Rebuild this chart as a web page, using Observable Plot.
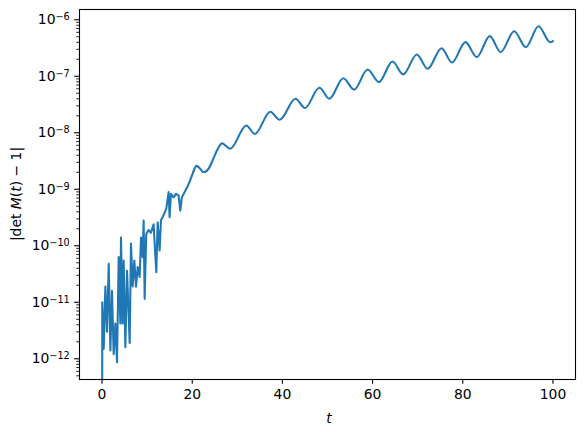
<!DOCTYPE html>
<html><head><meta charset="utf-8">
<script src="https://cdn.jsdelivr.net/npm/d3@7"></script>
<script src="https://cdn.jsdelivr.net/npm/@observablehq/plot@0.6"></script>
<style>body{margin:0;background:#fff}</style>
</head><body><div id="chart"></div>
<script>
// time values t
const tValues = [0, 0.05, 0.37, 0.74, 1.1, 1.48, 1.85, 2.2, 2.58, 2.95, 3.32, 3.69, 4.06, 4.2, 4.57, 4.8, 5.17, 5.54, 6.13, 6.42, 6.79, 7.16, 7.53, 7.9, 8.34, 8.64, 9.0, 9.23, 9.45, 9.8, 10.3, 10.85, 11.43, 11.8, 12.03, 12.33, 12.77, 13.06, 13.65, 14.24, 14.76, 14.98, 15.28, 15.87, 16.38, 16.97, 17.35, 17.7, 18.8, 19.56, 20.3,
  20.95, 21.77, 22.5, 23.6, 24.7, 25.5, 26.6, 28.4, 32.0, 33.9, 37.3, 39.4, 42.9, 45.0, 48.2, 50.4, 53.5, 55.9, 58.9, 61.4, 64.4, 66.8, 69.8, 72.2, 75.3, 77.6, 80.6, 83.1, 86.0, 88.4, 91.4, 94.0, 96.8, 99.4, 100];
// |det M(t) - 1|
const detValues = [1e-16, 1.0e-11, 1.5e-12, 1.9e-11, 3.0e-12, 4.8e-11, 1.4e-12, 1.6e-11, 1.2e-12, 4.2e-12, 8.7e-13, 6.3e-11, 4.2e-12, 1.4e-10, 4.2e-12, 5.5e-11, 1.6e-12, 3.6e-11, 1.9e-12, 1.1e-10, 1.9e-11, 5.5e-11, 1.9e-11, 4.2e-11, 2.8e-11, 1.4e-10, 6.3e-11, 2.8e-10, 1.15e-11, 1.6e-10, 1.9e-10, 1.7e-10, 2.4e-10, 7.2e-11, 3.4e-11, 2.6e-10, 8.3e-11, 2.8e-10, 3.5e-10, 4.5e-10, 8.9e-10, 3.2e-10, 8.3e-10, 7.2e-10, 8.3e-10, 7.8e-10, 4.2e-10, 7.2e-10, 1.05e-9, 1.45e-9, 2.1e-9,
  2.6e-9, 2.3e-9, 2.0e-9, 2.3e-9, 3.5e-9, 4.9e-9, 6.5e-9, 5.2e-9, 1.35e-8, 9.5e-9, 2.35e-8, 1.7e-8, 4.0e-8, 2.75e-8, 6.25e-8, 4.0e-8, 9.25e-8, 5.8e-8, 1.32e-7, 7.9e-8, 1.83e-7, 1.08e-7, 2.43e-7, 1.36e-7, 3.14e-7, 1.75e-7, 4.02e-7, 2.18e-7, 5.13e-7, 2.67e-7, 6.28e-7, 3.27e-7, 7.7e-7, 4.0e-7, 4.2e-7];

const xTicks = [0, 20, 40, 60, 80, 100];
const yMajorTicks = [1e-12, 1e-11, 1e-10, 1e-9, 1e-8, 1e-7, 1e-6];
const yTickBase = "10";
const yTickExponents = ["−12", "−11", "−10", "−9", "−8", "−7", "−6"];
const xLabel = "t";

const yDomain = [4.3e-13, 1.52e-6];
const yMinorTicks = [];
for (let e = -13; e <= -6; e++) for (let m = 2; m <= 9; m++) {
  const v = m * Math.pow(10, e);
  if (v >= yDomain[0] && v <= yDomain[1]) yMinorTicks.push(v);
}

const rows = tValues.map((t, i) => ({t, v: detValues[i]}));
const noisy = rows.filter(d => d.t <= 20.3);
const smooth = rows.filter(d => d.t >= 20.3);
const color = "#1f77b4";

const plot = Plot.plot({
  width: 585, height: 432,
  marginLeft: 79, marginRight: 10, marginTop: 9, marginBottom: 53,
  style: {fontFamily: "DejaVu Sans", fontSize: "13.9px", color: "#000", background: "#fff"},
  x: {domain: [-5, 105], label: null},
  y: {type: "log", domain: yDomain, label: null},
  marks: [
    Plot.line(noisy, {x: "t", y: "v", stroke: color, strokeWidth: 2.08, clip: true}),
    Plot.line(smooth, {x: "t", y: "v", stroke: color, strokeWidth: 2.08, curve: "monotone-x", clip: true}),
    Plot.axisX(xTicks, {tickSize: 4.86, tickPadding: 4.86, label: null, strokeWidth: 1.1}),
    Plot.axisY(yMajorTicks, {tickSize: 4.86, tickPadding: 4.86, label: null, strokeWidth: 1.1,
      tickFormat: d => "@" + yMajorTicks.indexOf(d), ariaLabel: "y-major"}),
    Plot.axisY(yMinorTicks, {tickSize: 2.78, label: null, strokeWidth: 0.85, tickFormat: () => ""}),
    Plot.frame({stroke: "#000", strokeWidth: 1.1})
  ]
});

const svg = d3.select(plot);
// superscript tick labels (10^{-n})
svg.selectAll("text").each(function() {
  const el = d3.select(this);
  const s = el.text();
  if (/^@\d+$/.test(s)) {
    const i = +s.slice(1);
    el.text(null);
    el.append("tspan").text(yTickBase);
    el.append("tspan").attr("dy", "-0.42em").style("font-size", "9.7px").text(yTickExponents[i]);
  }
});

svg.append("text")
  .attr("x", 329).attr("y", 423)
  .attr("text-anchor", "middle")
  .style("font-style", "italic")
  .style("font-size", "13.9px")
  .text(xLabel);

const yl = svg.append("text")
  .attr("transform", "translate(16,194) rotate(-90)")
  .attr("text-anchor", "middle")
  .attr("dy", "0.35em")
  .style("font-size", "13.9px");
yl.append("tspan").text("|det ");
yl.append("tspan").style("font-style", "italic").text("M");
yl.append("tspan").text("(");
yl.append("tspan").style("font-style", "italic").text("t");
yl.append("tspan").text(") − 1|");

document.getElementById("chart").appendChild(plot);
</script>
</body></html>
